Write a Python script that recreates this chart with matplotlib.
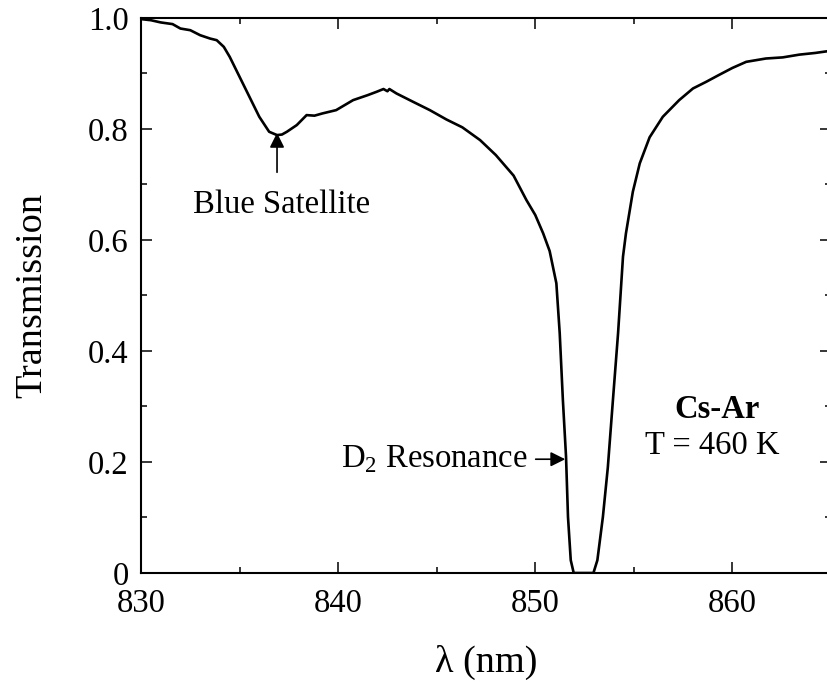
import matplotlib
matplotlib.use("Agg")
import matplotlib.pyplot as plt
from matplotlib.ticker import MultipleLocator

# Cs-Ar transmission spectrum
wavelength = [830.0, 830.5, 831.0, 831.6, 832.0, 832.5, 833.0, 833.5, 833.84, 834.2,
              834.5, 835.0, 835.5, 836.0, 836.5, 836.9, 837.15, 837.4, 837.9, 838.4,
              838.8, 839.2, 839.9, 840.76, 841.5, 841.95, 842.3, 842.5, 842.6, 842.96,
              843.8, 844.65, 845.5, 846.3, 847.2, 848.0, 848.9, 849.55, 850.0, 850.4,
              850.73, 851.07, 851.24, 851.4, 851.56, 851.66, 851.8, 851.95, 852.95, 853.15,
              853.43, 853.68, 853.94, 854.2, 854.45, 854.6, 854.95, 855.3, 855.8, 856.47,
              857.3, 858.0, 858.67, 859.3, 860.0, 860.7, 861.7, 862.55, 863.4, 864.2,
              865.0]
transmission = [0.998, 0.996, 0.992, 0.989, 0.981, 0.978, 0.969, 0.963, 0.960, 0.948,
                0.930, 0.894, 0.858, 0.822, 0.795, 0.789, 0.790, 0.795, 0.807, 0.825,
                0.824, 0.828, 0.834, 0.852, 0.861, 0.867, 0.872, 0.868, 0.872, 0.864,
                0.849, 0.834, 0.817, 0.803, 0.780, 0.753, 0.716, 0.672, 0.645, 0.612,
                0.580, 0.522, 0.432, 0.312, 0.210, 0.101, 0.023, 0.0, 0.0, 0.023,
                0.101, 0.190, 0.312, 0.432, 0.570, 0.612, 0.687, 0.738, 0.785, 0.822,
                0.852, 0.873, 0.885, 0.897, 0.910, 0.921, 0.927, 0.929, 0.934, 0.937,
                0.941]

x_ticks = [830, 840, 850, 860]
x_tick_labels = ["830", "840", "850", "860"]
y_ticks = [0, 0.2, 0.4, 0.6, 0.8, 1.0]
y_tick_labels = ["0", "0.2", "0.4", "0.6", "0.8", "1.0"]

# annotation anchors (wavelength, transmission)
satellite_tip = (836.9, 0.793)
satellite_tail = (836.9, 0.722)
satellite_text = (837.15, 0.663)
resonance_tip = (851.52, 0.205)
resonance_tail = (850.02, 0.205)
resonance_text = (849.6, 0.205)

plt.rcParams["font.family"] = ["Liberation Serif", "DejaVu Serif"]
plt.rcParams["mathtext.fontset"] = "custom"
plt.rcParams["mathtext.rm"] = "Liberation Serif"

fig = plt.figure(figsize=(8.27, 6.84), dpi=100)
ax = fig.add_axes([0.1705, 0.1623, 0.8343, 0.8114])

ax.plot(wavelength, transmission, color="black", lw=1.9)

ax.set_xlim(830, 865)
ax.set_ylim(0, 1.0)
ax.set_xticks(x_ticks)
ax.set_xticklabels(x_tick_labels)
ax.set_yticks(y_ticks)
ax.set_yticklabels(y_tick_labels)
ax.xaxis.set_minor_locator(MultipleLocator(5))
ax.yaxis.set_minor_locator(MultipleLocator(0.1))
ax.tick_params(which="both", direction="in", top=True, right=True, width=1.1,
               labelsize=23.5)
ax.tick_params(which="major", length=8)
ax.tick_params(which="minor", length=4)
ax.tick_params(axis="x", pad=11)
ax.tick_params(axis="y", pad=9)
for sp in ax.spines.values():
    sp.set_linewidth(1.5)

ax.set_xlabel("λ (nm)", fontsize=27.5, labelpad=19)
ax.set_ylabel("Transmission", fontsize=27.5, labelpad=28)

ax.annotate("", xy=satellite_tip, xytext=satellite_tail,
            arrowprops=dict(arrowstyle="-|>", color="black", lw=1.2,
                            mutation_scale=22, shrinkA=0, shrinkB=0))
ax.text(satellite_text[0], satellite_text[1], "Blue Satellite",
        fontsize=23.5, ha="center", va="center")

ax.annotate("", xy=resonance_tip, xytext=resonance_tail,
            arrowprops=dict(arrowstyle="-|>", color="black", lw=1.2,
                            mutation_scale=22, shrinkA=0, shrinkB=0))
ax.text(resonance_text[0], resonance_text[1], "D$_2$ Resonance",
        fontsize=23.5, ha="right", va="center")

ax.text(859.2, 0.295, "Cs-Ar", fontsize=23.5, fontweight="bold",
        ha="center", va="center")
ax.text(859.0, 0.229, "T = 460 K", fontsize=23.5, ha="center", va="center")

fig.savefig("out.png", dpi=100)
